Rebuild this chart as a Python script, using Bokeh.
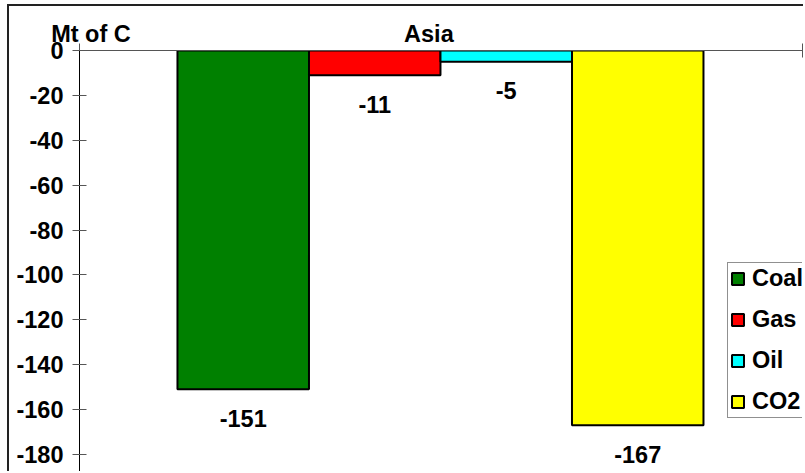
from bokeh.plotting import figure
from bokeh.models import (ColumnDataSource, Range1d, FixedTicker, Legend, LegendItem)
from bokeh.core.properties import value
from bokeh.embed import file_html
from bokeh.resources import INLINE

# Change in emissions for Asia, Mt of C
categories = ["Coal", "Gas", "Oil", "CO2"]
changes = [-151, -11, -5, -167]
colors = ["#008000", "#FF0000", "#00FFFF", "#FFFF00"]
y_ticks = [0, -20, -40, -60, -80, -100, -120, -140, -160, -180]
region = "Asia"
unit = "Mt of C"

FONT = "Liberation Sans"
FS = "23.5px"

positions = list(range(len(categories)))
src = ColumnDataSource(dict(x=positions, val=changes, color=colors, cat=categories,
                            txt=[str(v) for v in changes]))

x_lo, x_hi = -1.245, 4.253
p = figure(width=796, height=467, output_backend="svg", toolbar_location=None,
           x_range=Range1d(x_lo, x_hi), y_range=Range1d(-188.5, 0),
           x_axis_location="above",
           min_border_left=70, min_border_top=44, min_border_right=3, min_border_bottom=0,
           styles={"margin-left": "7px", "margin-top": "4px",
                   "border-left": "2px solid #222", "border-top": "2px solid #222"})
p.outline_line_color = None
p.grid.visible = False
p.background_fill_color = "white"
p.border_fill_color = "white"

# Bars hanging from zero
r = p.vbar(x="x", width=1.0, top=0, bottom="val", source=src,
           fill_color="color", line_color="black", line_width=2)

# Value labels under each bar
p.text(x="x", y="val", text="txt", source=src, y_offset=29,
       text_align="center", text_baseline="middle",
       text_font=value(FONT), text_font_style="bold", text_font_size=FS,
       text_color="black")

# Category axis along the zero line; its labels carry the unit and the region name
unit_pos = -1.158
region_pos = 1.412
xa = p.xaxis[0]
xa.ticker = FixedTicker(ticks=[unit_pos, region_pos], minor_ticks=[x_lo, x_hi])
xa.major_label_overrides = {unit_pos: unit, region_pos: region}
xa.major_tick_line_color = None
xa.major_tick_in = 0
xa.major_tick_out = 0
xa.major_label_standoff = -3
xa.minor_tick_in = 7
xa.minor_tick_out = 7
xa.minor_tick_line_color = "#555555"
xa.axis_line_color = "#555555"
xa.major_label_text_font = FONT
xa.major_label_text_font_style = "bold"
xa.major_label_text_font_size = FS
xa.major_label_text_color = "black"

ya = p.yaxis[0]
ya.ticker = FixedTicker(ticks=y_ticks)
ya.major_label_overrides = {t: str(t) for t in y_ticks}
ya.minor_tick_line_color = None
ya.major_tick_in = 7
ya.major_tick_out = 7
ya.major_label_standoff = 9
ya.axis_line_color = "black"
ya.major_tick_line_color = "#555555"
ya.major_label_text_font = FONT
ya.major_label_text_font_style = "bold"
ya.major_label_text_font_size = FS
ya.major_label_text_color = "black"

items = [LegendItem(label=c, renderers=[r], index=i) for i, c in enumerate(categories)]
legend = Legend(items=items, location=(648, 55), orientation="vertical",
                glyph_width=15, glyph_height=15, label_standoff=7,
                label_text_font=FONT, label_text_font_style="bold",
                label_text_font_size=FS, label_text_color="black",
                label_height=24, spacing=14,
                padding=2, margin=0,
                border_line_color="#222222", border_line_width=1,
                background_fill_color="white", background_fill_alpha=1)
p.add_layout(legend, "center")

open("out.html", "w").write(file_html(p, INLINE))
